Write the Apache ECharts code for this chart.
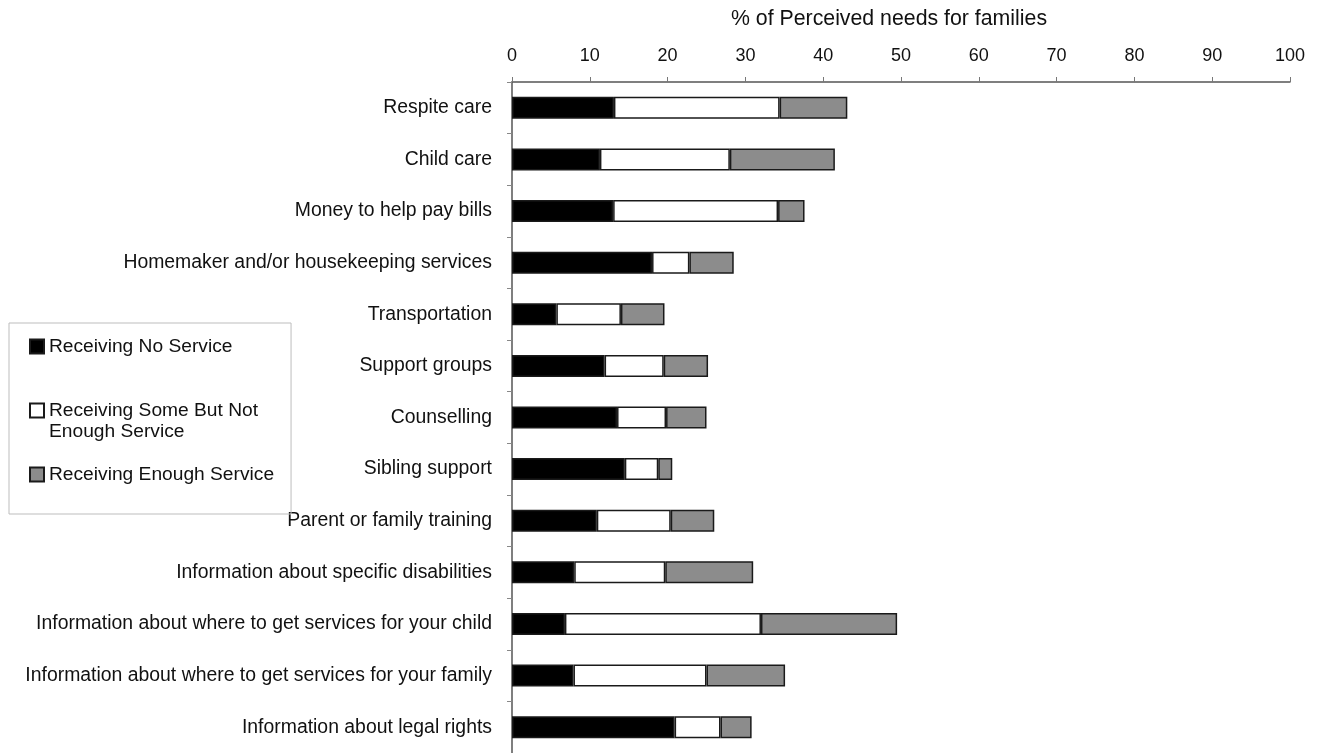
<!DOCTYPE html>
<html>
<head>
<meta charset="utf-8">
<script src="https://cdn.jsdelivr.net/npm/echarts@6/dist/echarts.min.js"></script>
<style>
html,body{margin:0;padding:0;background:#fff;}
#chart{width:1320px;height:753px;}
</style>
</head>
<body>
<div id="chart"></div>
<script>
const categories = [
  'Respite care',
  'Child care',
  'Money to help pay bills',
  'Homemaker and/or housekeeping services',
  'Transportation',
  'Support groups',
  'Counselling',
  'Sibling support',
  'Parent or family training',
  'Information about specific disabilities',
  'Information about where to get services for your child',
  'Information about where to get services for your family',
  'Information about legal rights'
];
const seriesNames = ['Receiving No Service', 'Receiving Some But Not Enough Service', 'Receiving Enough Service'];
const noService     = [13.1, 11.3, 13.0, 18.0, 5.7, 11.9, 13.5, 14.5, 10.9, 8.0, 6.8, 7.9, 20.9];
const someService   = [21.3, 16.7, 21.2, 4.8, 8.3, 7.6, 6.3, 4.3, 9.5, 11.7, 25.2, 17.1, 5.9];
const enoughService = [8.7, 13.5, 3.4, 5.7, 5.6, 5.7, 5.2, 1.8, 5.6, 11.3, 17.5, 10.1, 4.0];
const xTicks = {min: 0, max: 100, interval: 10};
const axisTitle = '% of Perceived needs for families';

const FONT = '"Liberation Sans", Arial, sans-serif';
const colors = ['#000000', '#ffffff', '#8c8c8c'];
const values = [noService, someService, enoughService];

const chart = echarts.init(document.getElementById('chart'), null, {renderer: 'canvas'});
chart.setOption({
  animation: false,
  textStyle: {fontFamily: FONT},
  grid: {left: 512, right: 30, top: 82, bottom: 0, containLabel: false},
  legend: {
    orient: 'vertical',
    left: 9,
    top: 323,
    padding: [13, 17, 29, 20],
    borderColor: '#bdbdbd',
    borderWidth: 1,
    itemWidth: 14,
    itemHeight: 14,
    itemGap: 22,
    itemTextGap: 4,
    icon: 'rect',
    selectedMode: false,
    textStyle: {fontFamily: FONT, fontSize: 19.2, color: '#111', lineHeight: 21},
    formatter: function (name) {
      if (name === seriesNames[1]) return '\nReceiving Some But Not\nEnough Service';
      return name;
    },
    data: seriesNames
  },
  xAxis: {
    type: 'value',
    position: 'top',
    min: xTicks.min,
    max: xTicks.max,
    interval: xTicks.interval,
    name: axisTitle,
    nameLocation: 'middle',
    nameGap: 52,
    nameTextStyle: {fontFamily: FONT, fontSize: 21.3, color: '#111', padding: [0, 24, 0, 0]},
    axisLine: {show: true, lineStyle: {color: '#555', width: 1.5}},
    axisTick: {show: true, length: 5, lineStyle: {color: '#777'}},
    axisLabel: {fontFamily: FONT, fontSize: 18, color: '#111', margin: 17},
    splitLine: {show: false}
  },
  yAxis: {
    type: 'category',
    inverse: true,
    data: categories,
    axisLine: {show: true, lineStyle: {color: '#555', width: 1.5}},
    axisTick: {show: true, length: 5, lineStyle: {color: '#888'}},
    axisLabel: {fontFamily: FONT, fontSize: 19.4, color: '#111', margin: 20},
    splitLine: {show: false}
  },
  series: seriesNames.map((n, i) => ({
    name: n,
    type: 'bar',
    stack: 'total',
    barWidth: 22,
    data: values[i],
    itemStyle: {color: colors[i], borderColor: '#1a1a1a', borderWidth: 1.5}
  }))
});
</script>
</body>
</html>
